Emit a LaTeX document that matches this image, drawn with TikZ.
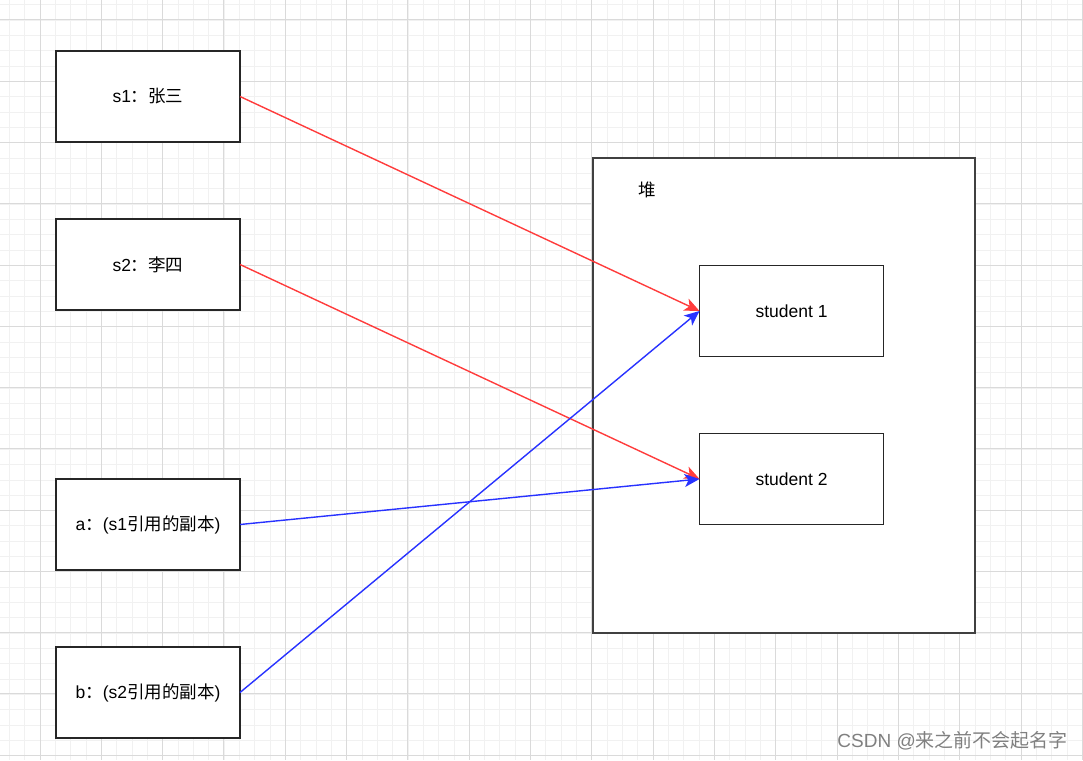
\documentclass[tikz,border=0pt]{standalone}
\usepackage{fontspec}
\setmainfont{Liberation Sans}
\newfontfamily\cjk{Noto Sans CJK SC}
\usetikzlibrary{arrows.meta, positioning}
\definecolor{refred}{RGB}{255,60,60}
\definecolor{refblue}{RGB}{40,50,255}
\definecolor{minorgrid}{RGB}{241,241,241}
\definecolor{majorgrid}{RGB}{218,218,218}

\begin{document}
\begin{tikzpicture}[
            x=1pt, y=-1pt,
            node distance=77pt,
            box/.style={rectangle, draw=black!85, line width=1.5pt, fill=white, minimum width=184pt, minimum height=91pt, outer sep=0pt, font=\fontsize{17.5}{20}\selectfont},
            heapbox/.style={rectangle, draw=black!75, line width=1.5pt, fill=white, minimum width=382pt, minimum height=475pt, outer sep=0pt},
            line/.style={draw, line width=1.4pt, -{Stealth[length=15pt, width=13pt, inset=4pt]}}
        ]
            \useasboundingbox (0,0) rectangle (1083,760);
            % Grid
            \foreach \i in {0,...,70} \draw[minorgrid, line width=0.8pt] (9.33+15.33*\i,0) -- (9.33+15.33*\i,760);
            \foreach \j in {0,...,49} \draw[minorgrid, line width=0.8pt] (0,4.67+15.33*\j) -- (1083,4.67+15.33*\j);
            \foreach \i in {0,...,17} \draw[majorgrid, line width=1pt] (40+61.33*\i,0) -- (40+61.33*\i,760);
            \foreach \j in {0,...,12} \draw[majorgrid, line width=1pt] (0,20+61.25*\j) -- (1083,20+61.25*\j);

            % Nodes
            \node [box] (s1) at (148,96.5) {s1{\cjk ：张三}};
            \node [box, below=of s1] (s2) {s2{\cjk ：李四}};
            \node [box, below=169pt of s2] (a) {a{\cjk ：}(s1{\cjk 引用的副本})};
            \node [box, below=of a] (b) {b{\cjk ：}(s2{\cjk 引用的副本})};

            % Heap
            \node [heapbox] (heap) at (784,395.5) {};
            \node [font=\fontsize{17.5}{20}\selectfont\cjk] (heaplabel) at (647,190) {堆};
            \node [box] (st1) at (791.5,311) {student 1};
            \node [box, below=of st1] (st2) {student 2};

            % Edges
            \path [line, refred] (s1.east) -- (st1.west);
            \path [line, refred] (s2.east) -- (st2.west);
            \path [line, refblue] (a.east) -- (st2.west);
            \path [line, refblue] (b.east) -- (st1.west);

            % Watermark
            \node [anchor=east, text=black!50, font=\fontsize{19}{22}\selectfont, inner sep=0pt] (mark) at (1068,741) {CSDN @{\cjk 来之前不会起名字}};
        \end{tikzpicture}
\end{document}
